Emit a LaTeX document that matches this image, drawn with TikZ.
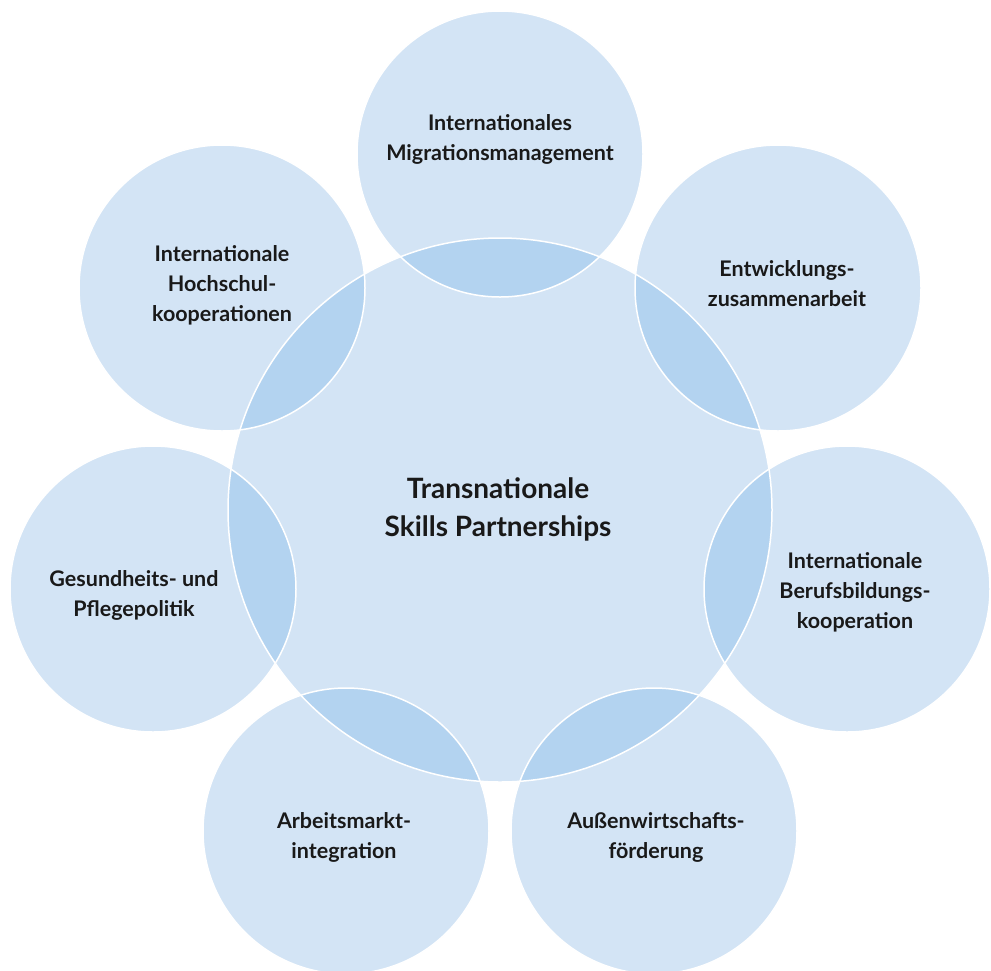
\documentclass[tikz,border=0pt]{standalone}
\usepackage{fontspec}
\setmainfont{Lato}
\usepackage{xcolor}
\usepackage{tikz}
\usetikzlibrary{positioning}

\definecolor{bubblefill}{HTML}{D3E4F5}
\definecolor{overlapfill}{HTML}{B3D3F0}

\begin{document}
\begin{tikzpicture}[x=1pt,y=-1pt,
  hubcircle/.style={circle,fill=bubblefill,minimum size=544pt,inner sep=0pt},
  bubble/.style={circle,fill=bubblefill,minimum size=286pt,inner sep=0pt},
  label/.style={align=center,font=\fontsize{21.5}{30}\selectfont\bfseries,text=black!90},
  hublabel/.style={align=center,font=\fontsize{28}{38}\selectfont\bfseries,text=black!90}]
  \useasboundingbox (0,0) rectangle (991,970);
  % big circle in the middle and the seven around it
  \node[hubcircle] (hub) at (500,510) {};
  \node[bubble] (mig) at (500,154) {};
  \node[bubble] (dev) at (778,288) {};
  \node[bubble] (voc) at (847,589) {};
  \node[bubble] (trade) at (654,831) {};
  \node[bubble] (labour) at (346,831) {};
  \node[bubble] (care) at (153,589) {};
  \node[bubble] (uni) at (222,288) {};
  % darker lens where a small circle cuts the big one
  \foreach \n in {mig,dev,voc,trade,labour,care,uni} {
    \begin{scope}
      \clip (hub.center) circle (272);
      \fill[overlapfill] (\n.center) circle (143);
    \end{scope}
  }
  % white rims
  \draw[white,line width=1.5pt] (hub.center) circle (272);
  \foreach \n in {mig,dev,voc,trade,labour,care,uni}
    \draw[white,line width=1.5pt] (\n.center) circle (143);
  % texts
  \node[hublabel] (hubtext) at (498,509) {Transnationale\\Skills Partnerships};
  \node[label] (migtext) at (500,139) {Internationales\\Migrationsmanagement};
  \node[label] (devtext) at (787,284) {Entwicklungs-\\zusammenarbeit};
  \node[label] (voctext) at (855,592) {Internationale\\Berufsbildungs-\\kooperation};
  \node[label] (tradetext) at (656,837) {Außenwirtschafts-\\förderung};
  \node[label] (labourtext) at (344,837) {Arbeitsmarkt-\\integration};
  \node[label] (caretext) at (134,595) {Gesundheits- und\\Pflegepolitik};
  \node[label] (unitext) at (222,285) {Internationale\\Hochschul-\\kooperationen};
\end{tikzpicture}
\end{document}
